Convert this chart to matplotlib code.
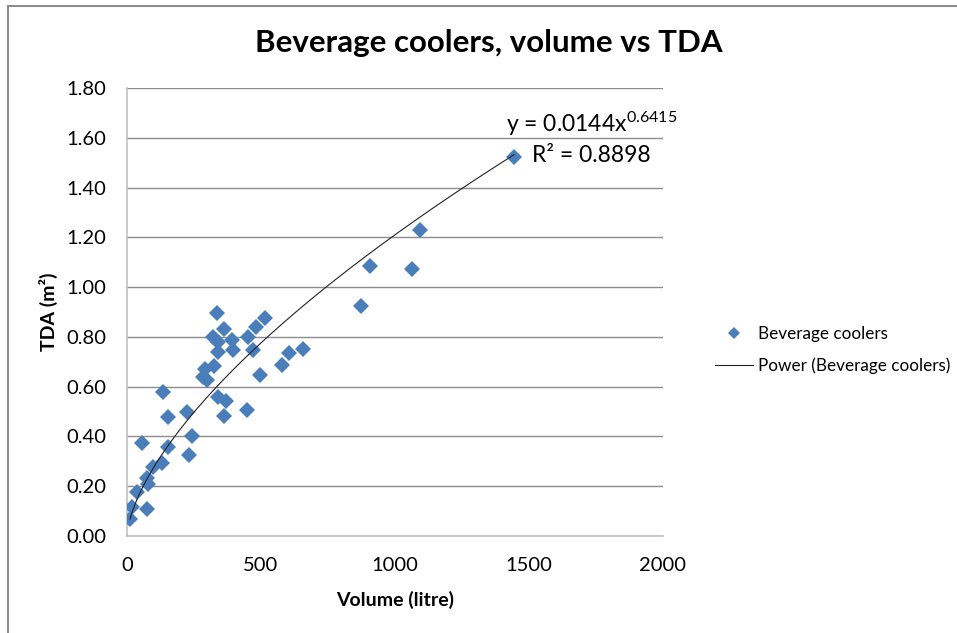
import numpy as np
import matplotlib.pyplot as plt
from matplotlib.lines import Line2D

plt.rcParams['font.family'] = ['Lato', 'DejaVu Sans']
plt.rcParams['mathtext.fontset'] = 'custom'
plt.rcParams['mathtext.rm'] = 'Lato'
plt.rcParams['mathtext.it'] = 'Lato:italic'
plt.rcParams['mathtext.bf'] = 'Lato:bold'

# Beverage coolers: net volume (litre) and total display area (m2)
volume = [334.7, 361.9, 514.9, 480.2, 322.0, 340.7, 392.9, 396.6, 452.6, 469.0,
          340.7, 604.5, 657.8, 579.5, 496.3, 324.6, 291.0, 282.5, 297.4, 135.4,
          340.7, 369.4, 361.9, 448.9, 222.8, 154.1, 241.4, 154.1, 54.9, 231.3,
          129.5, 98.1, 73.5, 79.5, 36.2, 17.5, 73.5, 11.2, 872.0, 1093.0,
          906.7, 1062.0, 1444.0]
tda = [0.894, 0.830, 0.874, 0.841, 0.800, 0.780, 0.787, 0.747, 0.798, 0.747,
       0.740, 0.734, 0.750, 0.687, 0.647, 0.683, 0.669, 0.640, 0.627, 0.580,
       0.560, 0.543, 0.482, 0.506, 0.499, 0.479, 0.402, 0.359, 0.372, 0.325,
       0.294, 0.278, 0.232, 0.209, 0.178, 0.118, 0.107, 0.067, 0.924, 1.229,
       1.084, 1.071, 1.522]

# power trendline y = a * x^b
coef_a = 0.0144
coef_b = 0.6415
r_squared = 0.8898

xticks = [0, 500, 1000, 1500, 2000]
yticks = [0.0, 0.2, 0.4, 0.6, 0.8, 1.0, 1.2, 1.4, 1.6, 1.8]

W, H = 957, 633
fig = plt.figure(figsize=(W / 100, H / 100), dpi=100)
ax = fig.add_axes([127 / W, 1 - 536 / H, (663 - 127) / W, (536 - 88) / H])

blue = '#4a7ebb'
ax.plot(volume, tda, 'D', color=blue, markersize=8.2, markeredgewidth=0,
        label='Beverage coolers', zorder=3)

xfit = np.linspace(min(volume), max(volume), 300)
yfit = coef_a * xfit ** coef_b
ax.plot(xfit, yfit, color='#222222', linewidth=0.8,
        label='Power (Beverage coolers)', zorder=4)

ax.set_xlim(0, 2000)
ax.set_ylim(0, 1.8)
ax.set_xticks(xticks)
ax.set_yticks(yticks)
ax.set_xticklabels([str(t) for t in xticks])
ax.set_yticklabels([f'{t:.2f}' for t in yticks])
ax.tick_params(length=0, labelsize=14.5, colors='black')
ax.tick_params(axis='y', pad=15)
ax.tick_params(axis='x', pad=15)

ax.grid(axis='y', color='#8c8c8c', linewidth=1.0)
ax.set_axisbelow(True)
for s in ['top', 'right']:
    ax.spines[s].set_visible(False)
for s in ['left', 'bottom']:
    ax.spines[s].set_color('#c0c0c0')
    ax.spines[s].set_linewidth(1.2)

ax.set_xlabel('Volume (litre)', fontsize=14, fontweight='bold', labelpad=12)
ax.set_ylabel('TDA (m²)', fontsize=14, fontweight='bold', labelpad=6)

fig.text(489 / W, 1 - 43 / H, 'Beverage coolers, volume vs TDA',
         ha='center', va='center', fontsize=22.5, fontweight='bold')

# trendline equation
fig.text(506 / W, 1 - 124 / H, f'y = {coef_a}x$^{{\\mathrm{{{coef_b}}}}}$',
         ha='left', va='center', fontsize=16.5)
fig.text(532 / W, 1 - 155 / H, f'R² = {r_squared}',
         ha='left', va='center', fontsize=16.5)

fig.legend(loc='center left', bbox_to_anchor=(715 / W, 1 - 350 / H),
           frameon=False, fontsize=12.3, handlelength=2.2, handletextpad=0.3,
           labelspacing=0.9, borderpad=0, borderaxespad=0, markerscale=0.75)

# chart area frame
fig.add_artist(Line2D([8 / W, 1], [1 - 6 / H, 1 - 6 / H], color='#8c8c8c', linewidth=1.5))
fig.add_artist(Line2D([8 / W, 8 / W], [0, 1 - 6 / H], color='#8c8c8c', linewidth=1.5))

fig.savefig('out.png', dpi=100)
